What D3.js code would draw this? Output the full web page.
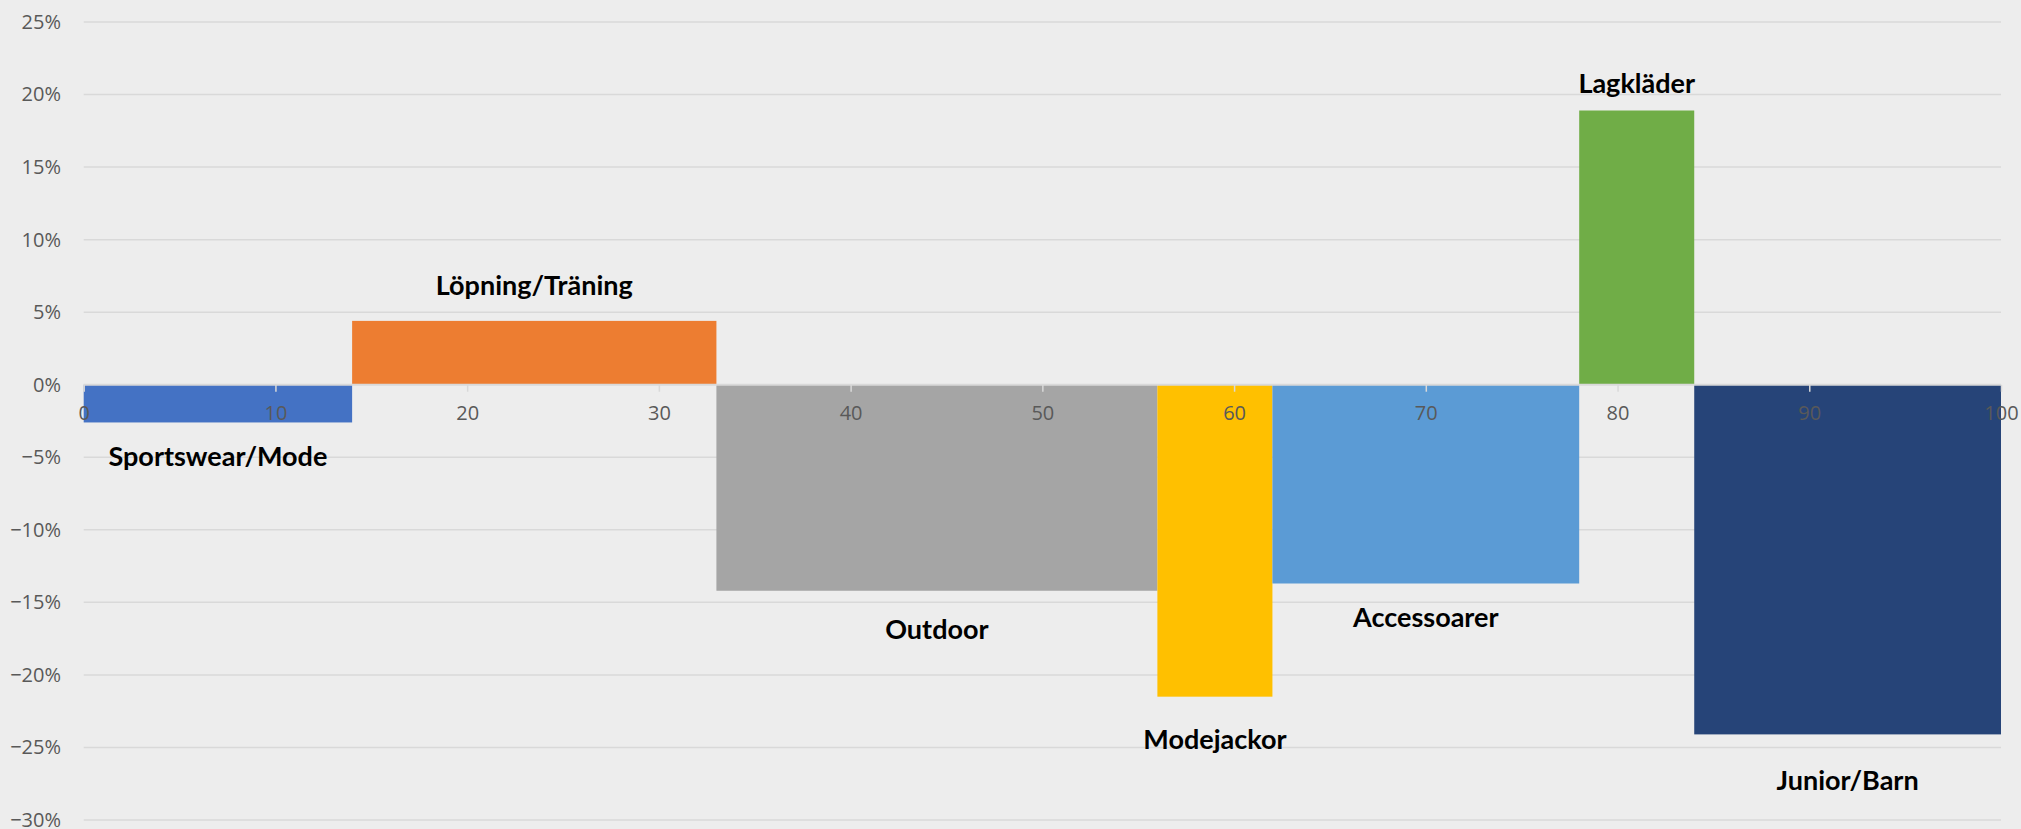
<!DOCTYPE html>
<html>
<head>
<meta charset="utf-8">
<script src="https://cdn.jsdelivr.net/npm/d3@7"></script>
<style>
  html, body { margin: 0; padding: 0; background: #EDEDED; }
  svg { display: block; }
</style>
</head>
<body>
<svg id="chart" width="2021" height="829"></svg>
<script>
// Segments, their share of the total (bar width) and growth (bar height)
const categories = ["Sportswear/Mode", "Löpning/Träning", "Outdoor", "Modejackor", "Accessoarer", "Lagkläder", "Junior/Barn"];
const shares = [14, 19, 23, 6, 16, 6, 16];
const growth = [-0.026, 0.044, -0.142, -0.215, -0.137, 0.189, -0.241];
const colors = ["#4472C4", "#ED7D31", "#A5A5A5", "#FFC000", "#5B9BD5", "#70AD47", "#264478"];
const xTicks = [0, 10, 20, 30, 40, 50, 60, 70, 80, 90, 100];
const yTicks = [0.25, 0.20, 0.15, 0.10, 0.05, 0, -0.05, -0.10, -0.15, -0.20, -0.25, -0.30];

// Distance of each segment name from the end of its bar, in pixels
const labelGap = [33, 36, 38, 42, 33, 28, 45];

const svg = d3.select("#chart");
const W = 2021, H = 829;
const plot = { left: 83.7, right: 2001, top: 22, bottom: 820 };

const x = d3.scaleLinear().domain([0, 100]).range([plot.left, plot.right]);
const y = d3.scaleLinear().domain([-0.30, 0.25]).range([plot.bottom, plot.top]);

svg.append("rect").attr("width", W).attr("height", H).attr("fill", "#EDEDED");

// Horizontal gridlines
svg.append("g")
  .selectAll("line")
  .data(yTicks.filter(d => d !== 0))
  .join("line")
  .attr("x1", plot.left).attr("x2", plot.right)
  .attr("y1", d => y(d)).attr("y2", d => y(d))
  .attr("stroke", "#D9D9D9").attr("stroke-width", 1.5);

// Y axis labels
const yAxis = d3.axisLeft(y).tickValues(yTicks).tickFormat(d3.format(".0%")).tickSize(0).tickPadding(0);
const gy = svg.append("g").attr("transform", `translate(61,0)`).call(yAxis);
gy.select(".domain").remove();
gy.selectAll("text")
  .attr("font-family", "'Open Sans', sans-serif")
  .attr("font-size", 20)
  .attr("fill", "#595959");

// Variable-width bars: each starts where the previous one ends
const starts = d3.cumsum([0, ...shares.slice(0, -1)]);
const rows = categories.map((c, i) => ({
  name: c, x0: starts[i], x1: starts[i] + shares[i], v: growth[i], color: colors[i], gap: labelGap[i]
}));

svg.append("g")
  .selectAll("rect")
  .data(rows)
  .join("rect")
  .attr("x", d => x(d.x0))
  .attr("width", d => x(d.x1) - x(d.x0))
  .attr("y", d => y(Math.max(0, d.v)))
  .attr("height", d => Math.abs(y(d.v) - y(0)))
  .attr("fill", d => d.color);

// X axis on top of the bars
const xAxis = d3.axisBottom(x).tickValues(xTicks).tickFormat(d3.format("d")).tickSize(7).tickPadding(14);
const gx = svg.append("g").attr("transform", `translate(0,${y(0)})`).call(xAxis);
gx.select(".domain").attr("stroke", "#D9D9D9").attr("stroke-width", 2).attr("d", `M${plot.left},0H${plot.right}`);
gx.selectAll(".tick line").attr("stroke", "#D9D9D9").attr("stroke-width", 1.5);
gx.selectAll("text")
  .attr("font-family", "'Open Sans', sans-serif")
  .attr("font-size", 20)
  .attr("fill", "#595959");

// Segment names, placed beyond the end of each bar
svg.append("g")
  .selectAll("text")
  .data(rows)
  .join("text")
  .attr("x", d => x((d.x0 + d.x1) / 2))
  .attr("y", d => y(d.v) + (d.v < 0 ? d.gap : -d.gap))
  .attr("text-anchor", "middle")
  .attr("dominant-baseline", "central")
  .attr("font-family", "Lato, sans-serif")
  .attr("font-weight", "bold")
  .attr("font-size", 27)
  .attr("fill", "#000")
  .text(d => d.name);
</script>
</body>
</html>
